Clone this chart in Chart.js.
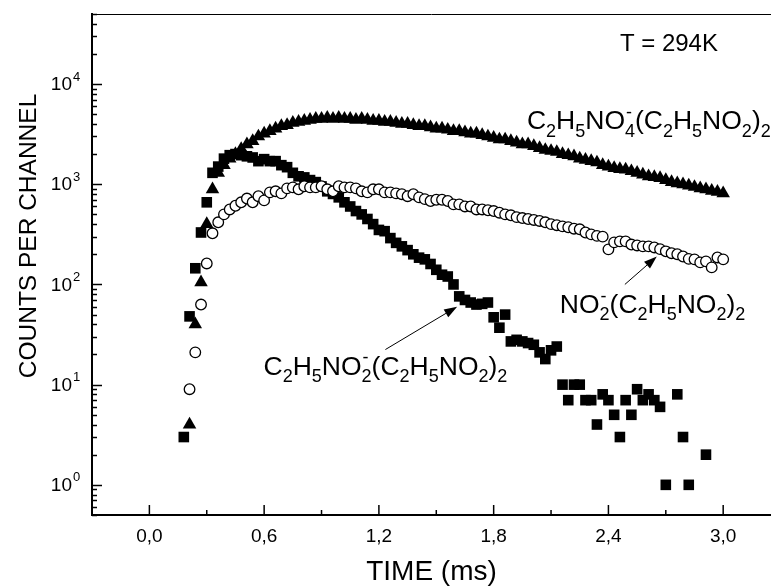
<!DOCTYPE html>
<html>
<head>
<meta charset="utf-8">
<script src="https://cdn.jsdelivr.net/npm/chart.js@4.4.1/dist/chart.umd.min.js"></script>
<style>
html, body { margin: 0; padding: 0; background: #fff; overflow: hidden; }
canvas { display: block; }
</style>
</head>
<body>
<canvas id="chart" width="771" height="587"></canvas>
<script>
// time channels (ms)
const time = [0.18, 0.21, 0.24, 0.27, 0.30, 0.33, 0.36, 0.39, 0.42, 0.45,
  0.48, 0.51, 0.54, 0.57, 0.60, 0.63, 0.66, 0.69, 0.72, 0.75,
  0.78, 0.81, 0.84, 0.87, 0.90, 0.93, 0.96, 0.99, 1.02, 1.05,
  1.08, 1.11, 1.14, 1.17, 1.20, 1.23, 1.26, 1.29, 1.32, 1.35,
  1.38, 1.41, 1.44, 1.47, 1.50, 1.53, 1.56, 1.59, 1.62, 1.65,
  1.68, 1.71, 1.74, 1.77, 1.80, 1.83, 1.86, 1.89, 1.92, 1.95,
  1.98, 2.01, 2.04, 2.07, 2.10, 2.13, 2.16, 2.19, 2.22, 2.25,
  2.28, 2.31, 2.34, 2.37, 2.40, 2.43, 2.46, 2.49, 2.52, 2.55,
  2.58, 2.61, 2.64, 2.67, 2.70, 2.73, 2.76, 2.79, 2.82, 2.85,
  2.88, 2.91, 2.94, 2.97, 3.00];

// C2H5NO2-(C2H5NO2)2  (filled squares)
const squares = [3, 48, 145, 330, 660, 1300, 1500, 1800, 1950, 2000,
  1950, 1900, 1850, 1700, 1780, 1700, 1700, 1550, 1480, 1300,
  1200, 1170, 1100, 1050, 950, 850, 800, 740, 660, 600,
  540, 500, 450, 400, 350, 340, 290, 260, 240, 220,
  200, 185, 178, 160, 140, 125, 120, 100, 76, 70,
  66, 63, 64, 66, 47, 37, 50, 27, 28, 27,
  26, 25, 21, 18, 22, 24, 10, 7, 10, 10,
  7, 7, 4, 8, 7, 5, 3, 7, 5, 9,
  7, 8, 7, 6, 1, null, 8, 3, 1, null,
  null, 2, null, null, null];

// C2H5NO4-(C2H5NO2)2  (filled triangles)
const triangles = [null, 4, 40, 105, 400, 890, 1300, 1550, 1800, 2000,
  2250, 2500, 2700, 3000, 3200, 3400, 3600, 3800, 3900, 4100,
  4200, 4300, 4400, 4500, 4500, 4600, 4500, 4600, 4500, 4500,
  4400, 4500, 4400, 4300, 4300, 4200, 4200, 4100, 4000, 4000,
  3900, 3800, 3800, 3700, 3600, 3600, 3500, 3400, 3400, 3300,
  3200, 3200, 3100, 3000, 2900, 2800, 2800, 2700, 2600, 2500,
  2500, 2400, 2300, 2200, 2150, 2100, 2000, 1950, 1900, 1800,
  1750, 1700, 1650, 1550, 1500, 1450, 1420, 1400, 1350, 1300,
  1250, 1200, 1180, 1150, 1100, 1050, 1020, 1000, 970, 940,
  910, 890, 860, 840, 810];

// NO2-(C2H5NO2)2  (open circles)
const circles = [null, 9, 21, 63, 162, 324, 417, 500, 560, 610,
  660, 720, 660, 760, 690, 830, 850, 810, 910, 930,
  890, 955, 930, 930, 955, 890, 850, 955, 930, 930,
  910, 850, 830, 890, 890, 830, 830, 810, 795, 760,
  795, 740, 710, 680, 700, 700, 680, 630, 630, 600,
  600, 560, 560, 550, 540, 520, 500, 490, 470, 460,
  450, 440, 430, 417, 400, 390, 380, 372, 360, 355,
  330, 316, 305, 300, 224, 263, 269, 269, 250, 245,
  240, 240, 234, 225, 214, 205, 200, 190, 180, 178,
  166, 170, 148, 186, 178];

const xTicks = [0, 0.6, 1.2, 1.8, 2.4, 3.0];
const xTickLabels = ['0,0', '0,6', '1,2', '1,8', '2,4', '3,0'];
const yTicks = [1, 10, 100, 1000, 10000];
const yTickExp = ['0', '1', '2', '3', '4'];

const FONT = '"Liberation Sans", Arial, Helvetica, sans-serif';

function points(values) {
  return time.map((t, i) => ({ x: t, y: values[i] })).filter(p => p.y !== null);
}

// formula text: _x subscript, ^x superscript (stacked when adjacent)
function drawFormula(ctx, str, x, y, big, small) {
  ctx.textAlign = 'left';
  ctx.textBaseline = 'alphabetic';
  let i = 0;
  while (i < str.length) {
    if (str[i] === '_' || str[i] === '^') {
      let sub = '', sup = '';
      while (i < str.length && (str[i] === '_' || str[i] === '^')) {
        if (str[i] === '_') sub = str[i + 1]; else sup = str[i + 1];
        i += 2;
      }
      ctx.font = small + 'px ' + FONT;
      let w = 0;
      if (sub) { ctx.fillText(sub, x, y + big * 0.28); w = Math.max(w, ctx.measureText(sub).width); }
      if (sup) { ctx.fillText(sup, x + 1, y - big * 0.42); w = Math.max(w, ctx.measureText(sup).width); }
      x += w;
    } else {
      ctx.font = big + 'px ' + FONT;
      ctx.fillText(str[i], x, y);
      x += ctx.measureText(str[i]).width;
      i++;
    }
  }
}

function arrow(ctx, x1, y1, x2, y2) {
  const a = Math.atan2(y2 - y1, x2 - x1);
  const len = 13, half = 4.5;
  ctx.lineWidth = 1;
  ctx.beginPath();
  ctx.moveTo(x1, y1);
  ctx.lineTo(x2 - Math.cos(a) * len, y2 - Math.sin(a) * len);
  ctx.stroke();
  ctx.beginPath();
  ctx.moveTo(x2, y2);
  ctx.lineTo(x2 - Math.cos(a) * len - Math.sin(a) * half, y2 - Math.sin(a) * len + Math.cos(a) * half);
  ctx.lineTo(x2 - Math.cos(a) * len + Math.sin(a) * half, y2 - Math.sin(a) * len - Math.cos(a) * half);
  ctx.closePath();
  ctx.fill();
}

const decor = {
  id: 'decor',
  afterDraw(chart) {
    const { ctx, chartArea: ca, scales: { x, y } } = chart;
    ctx.save();
    ctx.strokeStyle = '#000';
    ctx.fillStyle = '#000';

    // top frame line
    ctx.lineWidth = 1;
    ctx.beginPath();
    ctx.moveTo(ca.left, ca.top + 0.5);
    ctx.lineTo(ca.right, ca.top + 0.5);
    ctx.stroke();

    // inward ticks on x
    ctx.lineWidth = 1.5;
    for (let k = -1; k <= 11; k++) {
      const v = k * 0.3;
      const px = x.getPixelForValue(v);
      if (px <= ca.left + 1 || px > ca.right) continue;
      const len = k % 2 === 0 ? 10 : 5;
      ctx.beginPath();
      ctx.moveTo(px, ca.bottom);
      ctx.lineTo(px, ca.bottom - len);
      ctx.stroke();
    }
    // inward ticks on y
    for (let d = -1; d <= 4; d++) {
      for (let m = 1; m <= 9; m++) {
        const v = m * Math.pow(10, d);
        if (v < 0.5 || v > 50000) continue;
        const py = Math.round(y.getPixelForValue(v)) + 0.5;
        const len = m === 1 ? 10 : 5;
        ctx.beginPath();
        ctx.moveTo(ca.left, py);
        ctx.lineTo(ca.left + len, py);
        ctx.stroke();
      }
    }

    // y tick labels 10^n
    yTicks.forEach((v, i) => {
      const py = y.getPixelForValue(v);
      ctx.font = '19px ' + FONT;
      ctx.textAlign = 'right';
      ctx.textBaseline = 'middle';
      ctx.fillText('10', ca.left - 20, py + 1);
      ctx.font = '13px ' + FONT;
      ctx.textAlign = 'left';
      ctx.fillText(yTickExp[i], ca.left - 19, py - 7);
    });

    // y axis title
    ctx.save();
    ctx.translate(29, 236);
    ctx.rotate(-Math.PI / 2);
    ctx.font = '24.5px ' + FONT;
    ctx.textAlign = 'center';
    ctx.textBaseline = 'middle';
    ctx.fillText('COUNTS PER CHANNEL', 0, 0);
    ctx.restore();

    // annotations
    ctx.font = '24px ' + FONT;
    ctx.textAlign = 'left';
    ctx.textBaseline = 'alphabetic';
    ctx.fillText('T = 294K', x.getPixelForValue(2.46), y.getPixelForValue(21400));

    drawFormula(ctx, 'C_2H_5NO_4^-(C_2H_5NO_2)_2', x.getPixelForValue(1.974), y.getPixelForValue(3550), 26.5, 18);
    drawFormula(ctx, 'NO_2^-(C_2H_5NO_2)_2', x.getPixelForValue(2.146), y.getPixelForValue(52), 26.5, 18);
    drawFormula(ctx, 'C_2H_5NO_2^-(C_2H_5NO_2)_2', x.getPixelForValue(0.597), y.getPixelForValue(12.6), 26.5, 18);

    arrow(ctx, x.getPixelForValue(1.234), y.getPixelForValue(22.4), x.getPixelForValue(1.609), y.getPixelForValue(60));
    arrow(ctx, x.getPixelForValue(2.486), y.getPixelForValue(100), x.getPixelForValue(2.653), y.getPixelForValue(190));
    ctx.restore();
  }
};

new Chart(document.getElementById('chart'), {
  type: 'scatter',
  data: {
    datasets: [{
      label: 'NO2-(C2H5NO2)2',
      data: points(circles),
      pointStyle: 'circle',
      pointRadius: 5.3,
      pointHoverRadius: 5.3,
      pointBackgroundColor: '#fff',
      pointBorderColor: '#000',
      pointBorderWidth: 1.3
    }, {
      label: 'C2H5NO2-(C2H5NO2)2',
      data: points(squares),
      pointStyle: 'rect',
      pointRadius: 7.5,
      pointHoverRadius: 7.5,
      pointBackgroundColor: '#000',
      pointBorderColor: '#000',
      pointBorderWidth: 0
    }, {
      label: 'C2H5NO4-(C2H5NO2)2',
      data: points(triangles),
      pointStyle: 'triangle',
      pointRadius: 7.8,
      pointHoverRadius: 7.8,
      pointBackgroundColor: '#000',
      pointBorderColor: '#000',
      pointBorderWidth: 0
    }]
  },
  options: {
    responsive: false,
    animation: false,
    events: [],
    layout: { autoPadding: false, padding: { top: 14, right: 0, bottom: 0, left: 0 } },
    plugins: { legend: { display: false }, tooltip: { enabled: false } },
    scales: {
      x: {
        type: 'linear',
        bounds: 'data',
        min: -0.3,
        max: 3.25,
        afterBuildTicks: s => { s.ticks = xTicks.map(v => ({ value: v })); },
        afterFit: s => { s.height = 72; s.paddingLeft = 0; s.paddingRight = 0; },
        grid: { display: false, drawTicks: false },
        border: { display: true, color: '#000', width: 2 },
        ticks: {
          color: '#000',
          font: { family: FONT, size: 19 },
          padding: 10,
          maxRotation: 0,
          autoSkip: false,
          callback: (v, i) => xTickLabels[i]
        },
        title: {
          display: true,
          text: 'TIME (ms)',
          color: '#000',
          font: { family: FONT, size: 28 },
          padding: { top: 0, bottom: -2 }
        }
      },
      y: {
        type: 'logarithmic',
        min: 0.5,
        max: 50000,
        afterFit: s => { s.width = 92; s.paddingTop = 0; s.paddingBottom = 0; },
        grid: { display: false, drawTicks: false },
        border: { display: true, color: '#000', width: 2 },
        ticks: { display: false },
        title: { display: false }
      }
    }
  },
  plugins: [decor]
});
</script>
</body>
</html>
